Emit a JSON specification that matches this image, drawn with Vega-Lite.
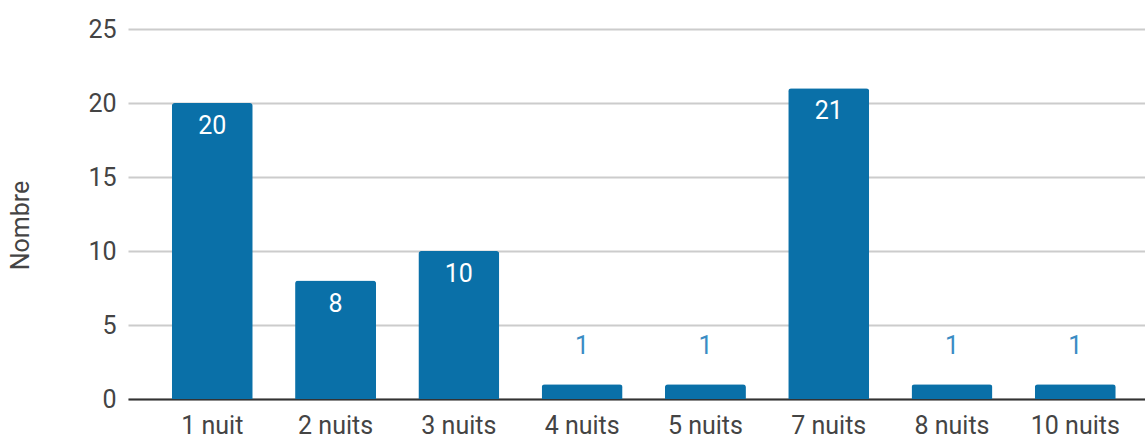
{
  "$schema": "https://vega.github.io/schema/vega-lite/v6.json",
  "autosize": {"type": "none"},
  "padding": {"left": 128, "top": 29, "right": 0, "bottom": 36},
  "width": 1017,
  "height": 370,
  "background": "#ffffff",
  "config": {
    "view": {"stroke": null},
    "font": "Roboto",
    "axis": {"labelFont": "Roboto", "titleFont": "Roboto"}
  },
  "data": {
    "values": [
      {"sejour": "1 nuit", "nombre": 20},
      {"sejour": "2 nuits", "nombre": 8},
      {"sejour": "3 nuits", "nombre": 10},
      {"sejour": "4 nuits", "nombre": 1},
      {"sejour": "5 nuits", "nombre": 1},
      {"sejour": "7 nuits", "nombre": 21},
      {"sejour": "8 nuits", "nombre": 1},
      {"sejour": "10 nuits", "nombre": 1}
    ]
  },
  "encoding": {
    "x": {
      "field": "sejour",
      "type": "nominal",
      "sort": null,
      "scale": {"paddingInner": 0.343, "paddingOuter": 0.296, "align": 0.6},
      "axis": {
        "title": null,
        "labelAngle": 0,
        "labelFontSize": 25,
        "labelColor": "#444444",
        "labelBaseline": "alphabetic",
        "labelPadding": 34,
        "ticks": false,
        "tickSize": 0,
        "domain": true,
        "domainColor": "#333333",
        "domainWidth": 2,
        "grid": false
      }
    },
    "y": {
      "field": "nombre",
      "type": "quantitative",
      "scale": {"domain": [0, 25], "nice": false},
      "axis": {
        "title": "Nombre",
        "titleFontSize": 25,
        "titleFontWeight": "normal",
        "titleColor": "#444444",
        "titleAngle": -90,
        "titleAlign": "center",
        "titleBaseline": "middle",
        "titleX": -108,
        "titleY": 196,
        "values": [0, 5, 10, 15, 20, 25],
        "labelFontSize": 25,
        "labelColor": "#444444",
        "labelPadding": 12,
        "ticks": false,
        "tickSize": 0,
        "domain": false,
        "grid": true,
        "gridColor": "#cccccc",
        "gridWidth": 2
      }
    }
  },
  "layer": [
    {
      "mark": {
        "type": "bar",
        "color": "#0a70a8",
        "cornerRadiusTopLeft": 3,
        "cornerRadiusTopRight": 3
      }
    },
    {
      "transform": [{"filter": "datum.nombre >= 5"}],
      "mark": {
        "type": "text",
        "color": "#ffffff",
        "fontSize": 25,
        "baseline": "alphabetic",
        "dy": 31
      },
      "encoding": {"text": {"field": "nombre", "type": "quantitative"}}
    },
    {
      "transform": [{"filter": "datum.nombre < 5"}],
      "mark": {
        "type": "text",
        "color": "#3a8cc4",
        "fontSize": 25,
        "baseline": "alphabetic",
        "dy": -30
      },
      "encoding": {"text": {"field": "nombre", "type": "quantitative"}}
    }
  ]
}
